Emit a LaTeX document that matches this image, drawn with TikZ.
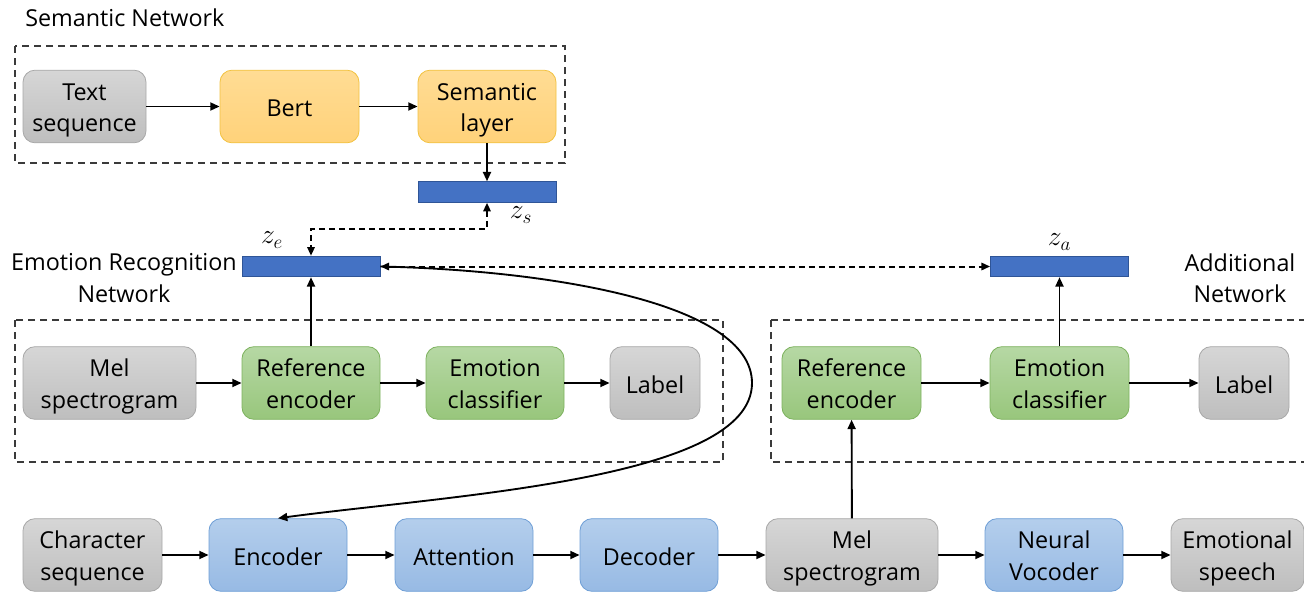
\documentclass[tikz,border=0pt]{standalone}
\usepackage{fontspec}
\setmainfont{Open Sans}
\usetikzlibrary{arrows.meta}
\definecolor{grayT}{HTML}{D6D6D6}
\definecolor{grayB}{HTML}{BEBEBE}
\definecolor{grayL}{HTML}{A8A8A8}
\definecolor{orT}{HTML}{FFDC94}
\definecolor{orB}{HTML}{FFD27A}
\definecolor{orL}{HTML}{F2C240}
\definecolor{grT}{HTML}{B6D8A4}
\definecolor{grB}{HTML}{98C67C}
\definecolor{grL}{HTML}{7DB25E}
\definecolor{blT}{HTML}{B4CEEC}
\definecolor{blB}{HTML}{97BAE4}
\definecolor{blL}{HTML}{6F9FD6}
\definecolor{barF}{HTML}{4472C4}
\definecolor{barL}{HTML}{2F5597}
\definecolor{frameC}{HTML}{3A3A3A}
% struts that fix the vertical extent of box labels
\newcommand{\topstrut}{\rule[-4.8pt]{0pt}{25pt}}
\newcommand{\botstrut}{\rule[-4.8pt]{0pt}{4.8pt}}
\begin{document}
\begin{tikzpicture}[x=0.75pt,y=-0.75pt,
  font=\fontsize{17.5}{23.5}\selectfont,
  blk/.style={rounded corners=9pt, minimum height=54.5pt, align=center, inner sep=0pt, line width=0.6pt,
    execute at begin node=\topstrut, execute at end node=\botstrut},
  two/.style={text height=42.5pt},
  graybox/.style={blk, draw=grayL, top color=grayT, bottom color=grayB},
  orbox/.style={blk, draw=orL, top color=orT, bottom color=orB},
  grbox/.style={blk, draw=grL, top color=grT, bottom color=grB},
  blbox/.style={blk, draw=blL, top color=blT, bottom color=blB},
  bar/.style={draw=barL, fill=barF, minimum width=103.5pt, minimum height=15.5pt, inner sep=0pt, line width=0.6pt},
  frame/.style={draw=frameC, dash pattern=on 5.5pt off 3.5pt, line width=0.95pt},
  mlab/.style={font=\fontsize{20}{24}\selectfont, inner sep=0pt},
  arr/.style={-{Triangle[length=7pt,width=6pt]}, line width=1.4pt},
  darr/.style={{Triangle[length=6.5pt,width=5.5pt]}-{Triangle[length=6.5pt,width=5.5pt]}, line width=1.5pt, dash pattern=on 4.5pt off 3pt},
  w/.style={minimum width=#1*0.75pt}
]
\useasboundingbox (0,0) rectangle (1304,593);
\clip (0,0) rectangle (1304,593);

% network frames
\draw[frame] (15,46) rectangle (565,163);
\draw[frame] (15,320) rectangle (723,462);
\draw[frame] (771,320) -- (1320,320) (771,320) -- (771,462) -- (1320,462);

% titles
\node[anchor=west, inner sep=0pt] (tsem) at (25,18) {Semantic Network};
\node[align=center, inner sep=0pt] (temo) at (124,278) {Emotion Recognition\\Network};
\node[align=center, inner sep=0pt] (tadd) at (1240,278) {Additional\\Network};

% semantic network
\node[graybox, two, w=123] (txt) at (84.5,106.5) {Text\\sequence};
\node[orbox, w=139] (bert) at (289.5,106.5) {Bert};
\node[orbox, two, w=138] (seml) at (487,106.5) {Semantic\\layer};
\node[bar] (zs) at (487,192) {};
\node[mlab] (lzs) at (521,215) {$z_s$};

% emotion recognition network
\node[bar] (ze) at (311,266.5) {};
\node[mlab] (lze) at (272,240) {$z_e$};
\node[graybox, two, w=173] (mel1) at (109.5,383) {Mel\\spectrogram};
\node[grbox, two, w=138] (ref1) at (311,383) {Reference\\encoder};
\node[grbox, two, w=138] (cls1) at (495,383) {Emotion\\classifier};
\node[graybox, w=90] (lab1) at (655,383) {Label};

% additional network
\node[bar] (za) at (1059.5,266.5) {};
\node[mlab] (lza) at (1059.5,242) {$z_a$};
\node[grbox, two, w=139] (ref2) at (851.5,383) {Reference\\encoder};
\node[grbox, two, w=139] (cls2) at (1059.5,383) {Emotion\\classifier};
\node[graybox, w=90] (lab2) at (1244,383) {Label};

% synthesis pipeline
\node[graybox, two, w=139] (chr) at (92.5,555) {Character\\sequence};
\node[blbox, w=138] (enc) at (278,555) {Encoder};
\node[blbox, w=138] (att) at (464,555) {Attention};
\node[blbox, w=138] (dec) at (649,555) {Decoder};
\node[graybox, two, w=172] (mel2) at (852,555) {Mel\\spectrogram};
\node[blbox, two, w=138] (voc) at (1054,555) {Neural\\Vocoder};
\node[graybox, two, w=133] (spk) at (1237.5,555) {Emotional\\speech};

% connectors
\draw[arr] (txt) -- (bert);
\draw[arr] (bert) -- (seml);
\draw[arr] (seml) -- (zs);
\coordinate (ka) at (487,229);
\coordinate (kb) at (311,229);
\draw[darr] (zs.south) -- (ka) -- (kb) -- (ze.north);

\draw[arr] (mel1) -- (ref1);
\draw[arr] (ref1) -- (cls1);
\draw[arr] (cls1) -- (lab1);
\draw[arr] (ref1) -- (ze);

\draw[arr] (ref2) -- (cls2);
\draw[arr] (cls2) -- (lab2);
\draw[arr] (cls2) -- (za);

\draw[darr] (ze.east) -- (za.west);

\coordinate (bend) at (752,383);
\draw[arr] (ze.east) .. controls (545,270) and (752,302) .. (bend)
  .. controls (752,480) and (450,495) .. (enc.north);

\draw[arr] (chr) -- (enc);
\draw[arr] (enc) -- (att);
\draw[arr] (att) -- (dec);
\draw[arr] (dec) -- (mel2);
\draw[arr] (mel2) -- (voc);
\draw[arr] (voc) -- (spk);
\draw[arr] (mel2) -- (ref2);
\end{tikzpicture}
\end{document}
